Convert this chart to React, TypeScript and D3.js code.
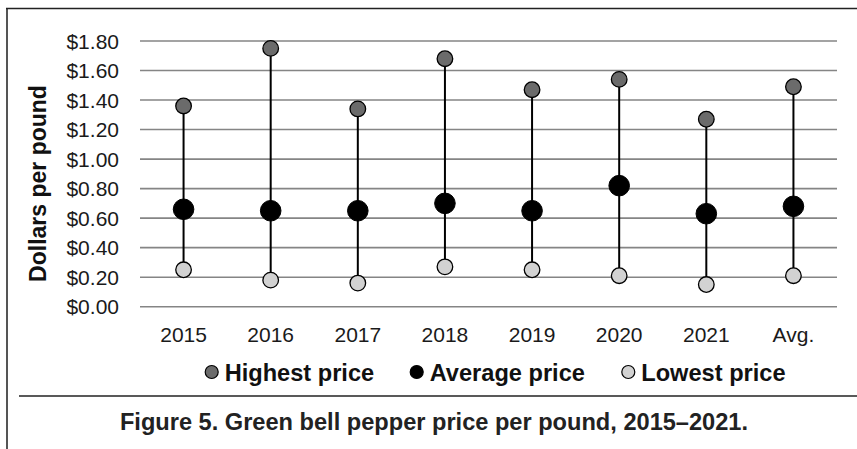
import React from "react";
import * as d3 from "d3";

const categories = ["2015", "2016", "2017", "2018", "2019", "2020", "2021", "Avg."];
const highestPrice = [1.36, 1.75, 1.34, 1.68, 1.47, 1.54, 1.27, 1.49];
const averagePrice = [0.66, 0.65, 0.65, 0.70, 0.65, 0.82, 0.63, 0.68];
const lowestPrice = [0.25, 0.18, 0.16, 0.27, 0.25, 0.21, 0.15, 0.21];
const yTicks = [0, 0.2, 0.4, 0.6, 0.8, 1.0, 1.2, 1.4, 1.6, 1.8];
const legendLabels = ["Highest price", "Average price", "Lowest price"];
const yTitle = "Dollars per pound";
const caption = "Figure 5. Green bell pepper price per pound, 2015\u20132021.";

const W = 857;
const H = 449;
const FONT = "'Liberation Sans', Arial, Helvetica, sans-serif";
const HIGH_FILL = "#6b6b6b";
const AVG_FILL = "#000000";
const LOW_FILL = "#d2d2d2";

export default function App() {
  const x = d3.scaleBand<string>().domain(categories).range([140, 837]).padding(0);
  const y = d3.scaleLinear().domain([0, 1.8]).range([306.7, 41]);
  const fmt = (v: number) => "$" + d3.format(".2f")(v);
  const cx = (c: string) => (x(c) as number) + x.bandwidth() / 2;

  const legendFills = [HIGH_FILL, AVG_FILL, LOW_FILL];
  const legendX = [211.7, 416.7, 628.3];

  return (
    <svg
      width={W}
      height={H}
      style={{ position: "absolute", left: 0, top: 0, background: "#fff" }}
      fontFamily={FONT}
    >
      {/* frame */}
      <line x1={7} x2={7} y1={8} y2={H} stroke="#555" strokeWidth={2} />
      <line x1={6} x2={W} y1={8.5} y2={8.5} stroke="#222" strokeWidth={1.5} />

      {/* gridlines */}
      {yTicks.map((t) => (
        <line
          key={"g" + t}
          x1={140}
          x2={837}
          y1={y(t)}
          y2={y(t)}
          stroke="#858585"
          strokeWidth={1.6}
        />
      ))}
      {yTicks.map((t) => (
        <text
          key={"t" + t}
          x={119}
          y={y(t)}
          dy="0.36em"
          textAnchor="end"
          fontSize={21}
          fill="#1a1a1a"
        >
          {fmt(t)}
        </text>
      ))}

      <text
        transform={`translate(38,183.5) rotate(-90)`}
        textAnchor="middle"
        dy="0.36em"
        fontSize={23}
        fontWeight="bold"
        fill="#111"
      >
        {yTitle}
      </text>

      {/* ranges */}
      {categories.map((c, i) => (
        <line
          key={"r" + c}
          x1={cx(c)}
          x2={cx(c)}
          y1={y(highestPrice[i])}
          y2={y(lowestPrice[i])}
          stroke="#000"
          strokeWidth={2}
        />
      ))}
      {categories.map((c, i) => (
        <g key={"p" + c}>
          <circle cx={cx(c)} cy={y(highestPrice[i])} r={7.8} fill={HIGH_FILL} stroke="#000" strokeWidth={1.3} />
          <circle cx={cx(c)} cy={y(lowestPrice[i])} r={7.8} fill={LOW_FILL} stroke="#000" strokeWidth={1.3} />
          <circle cx={cx(c)} cy={y(averagePrice[i])} r={10.3} fill={AVG_FILL} stroke="#000" strokeWidth={1} />
        </g>
      ))}

      {/* category labels */}
      {categories.map((c) => (
        <text key={"c" + c} x={cx(c)} y={341.5} textAnchor="middle" fontSize={21} fill="#1a1a1a">
          {c}
        </text>
      ))}

      {/* legend */}
      {legendLabels.map((l, i) => (
        <g key={"l" + l}>
          <circle cx={legendX[i]} cy={372} r={6.5} fill={legendFills[i]} stroke="#000" strokeWidth={1.2} />
          <text x={legendX[i] + 13} y={380.5} fontSize={23.6} fontWeight="bold" fill="#111">
            {l}
          </text>
        </g>
      ))}

      {/* separator and caption */}
      <line x1={19} x2={W} y1={396} y2={396} stroke="#222" strokeWidth={1.5} />
      <text x={434} y={430} textAnchor="middle" fontSize={23.6} fontWeight="bold" fill="#222">
        {caption}
      </text>
    </svg>
  );
}
